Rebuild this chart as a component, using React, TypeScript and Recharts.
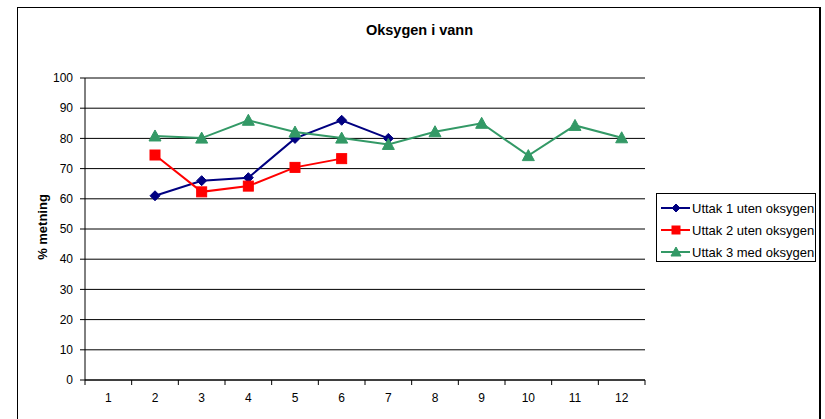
import { LineChart, Line, XAxis, YAxis, CartesianGrid } from "recharts";

const categories = [1, 2, 3, 4, 5, 6, 7, 8, 9, 10, 11, 12];
const uttak1 = [null, 61, 66, 67, 80, 86, 80, null, null, null, null, null];
const uttak2 = [null, 74.5, 62.3, 64.2, 70.4, 73.3, null, null, null, null, null, null];
const uttak3 = [null, 80.8, 80.1, 86, 82.1, 80.1, 78, 82.2, 85, 74.3, 84.3, 80.2];
const yTicks = [0, 10, 20, 30, 40, 50, 60, 70, 80, 90, 100];

const BLUE = "#000080";
const RED = "#FF0000";
const GREEN = "#339966";
const FONT = "'Liberation Sans', Arial, sans-serif";

const data = categories.map((c, i) => ({
  x: c,
  u1: uttak1[i],
  u2: uttak2[i],
  u3: uttak3[i],
}));

// ticks at category centres carry the labels, ticks at the boundaries carry the tick marks
const xTicks = categories.flatMap((c) => [c - 0.5, c]).concat(categories[categories.length - 1] + 0.5);

function XTick(props: any) {
  const { x, y, payload } = props;
  if (Number.isInteger(payload.value)) {
    return (
      <text x={x} y={y + 22} textAnchor="middle" fontSize={12} fontFamily={FONT} fill="#000">
        {payload.value}
      </text>
    );
  }
  return <line x1={x} x2={x} y1={y} y2={y + 5} stroke="#000" />;
}

function Diamond({ cx, cy, color, r = 5 }: any) {
  if (cx == null || cy == null) return null;
  return (
    <polygon
      points={`${cx},${cy - r} ${cx + r},${cy} ${cx},${cy + r} ${cx - r},${cy}`}
      fill={color}
      stroke={color}
    />
  );
}

function Square({ cx, cy, color, r = 5 }: any) {
  if (cx == null || cy == null) return null;
  return <rect x={cx - r} y={cy - r} width={r * 2} height={r * 2} fill={color} stroke={color} />;
}

function Triangle({ cx, cy, color, r = 6 }: any) {
  if (cx == null || cy == null) return null;
  return (
    <polygon
      points={`${cx},${cy - r} ${cx + r},${cy + r - 1} ${cx - r},${cy + r - 1}`}
      fill={color}
      stroke={color}
    />
  );
}

const legendItems = [
  { name: "Uttak 1 uten oksygen", color: BLUE, Shape: Diamond, r: 4 },
  { name: "Uttak 2 uten oksygen", color: RED, Shape: Square, r: 4 },
  { name: "Uttak 3 med oksygen", color: GREEN, Shape: Triangle, r: 5 },
];

export default function App() {
  return (
    <div
      style={{
        position: "absolute",
        left: 0,
        top: 0,
        width: 825,
        height: 419,
        overflow: "hidden",
        background: "#fff",
        fontFamily: FONT,
      }}
    >
      <div
        style={{
          position: "absolute",
          left: 17,
          top: 7,
          width: 804,
          height: 440,
          border: "1px solid #000",
          borderRightWidth: 2,
          boxSizing: "border-box",
        }}
      />
      <div
        style={{
          position: "absolute",
          left: 17,
          width: 805,
          top: 22,
          textAlign: "center",
          fontWeight: "bold",
          fontSize: 14.5,
        }}
      >
        Oksygen i vann
      </div>
      <div
        style={{
          position: "absolute",
          left: 42,
          top: 227,
          transform: "translate(-50%, -50%) rotate(-90deg)",
          whiteSpace: "nowrap",
          fontWeight: "bold",
          fontSize: 13,
        }}
      >
        % metning
      </div>

      <LineChart
        width={825}
        height={419}
        data={data}
        margin={{ top: 78, right: 180, bottom: 0, left: 25 }}
        style={{ position: "absolute", left: 0, top: 0 }}
      >
        <CartesianGrid vertical={false} stroke="#000" strokeWidth={1} />
        <XAxis
          dataKey="x"
          type="number"
          domain={[0.5, 12.5]}
          ticks={xTicks}
          interval={0}
          height={39}
          tickSize={0}
          tickMargin={0}
          tickLine={false}
          axisLine={{ stroke: "#000" }}
          tick={<XTick />}
        />
        <YAxis
          type="number"
          domain={[0, 100]}
          ticks={yTicks}
          interval={0}
          width={60}
          tickSize={5}
          tickMargin={7}
          axisLine={{ stroke: "#000" }}
          tickLine={{ stroke: "#000" }}
          tick={{ fontSize: 12, fill: "#000", fontFamily: FONT }}
        />
        <Line
          dataKey="u1"
          stroke={BLUE}
          strokeWidth={2}
          dot={(p: any) => <Diamond key={`d1-${p.index}`} cx={p.cx} cy={p.cy} color={BLUE} />}
          isAnimationActive={false}
        />
        <Line
          dataKey="u2"
          stroke={RED}
          strokeWidth={2}
          dot={(p: any) => <Square key={`d2-${p.index}`} cx={p.cx} cy={p.cy} color={RED} />}
          isAnimationActive={false}
        />
        <Line
          dataKey="u3"
          stroke={GREEN}
          strokeWidth={2}
          dot={(p: any) => <Triangle key={`d3-${p.index}`} cx={p.cx} cy={p.cy} color={GREEN} />}
          isAnimationActive={false}
        />
      </LineChart>

      <div
        style={{
          position: "absolute",
          left: 656,
          top: 193,
          width: 160,
          height: 69,
          border: "1px solid #000",
          boxSizing: "border-box",
          background: "#fff",
          paddingTop: 3,
        }}
      >
        {legendItems.map(({ name, color, Shape, r }) => (
          <div key={name} style={{ display: "flex", alignItems: "center", height: 22, fontSize: 13 }}>
            <svg width={35} height={14} style={{ flex: "none" }}>
              <line x1={4} x2={33} y1={7} y2={7} stroke={color} strokeWidth={2} />
              <Shape cx={19} cy={7} color={color} r={r} />
            </svg>
            <span style={{ whiteSpace: "nowrap" }}>{name}</span>
          </div>
        ))}
      </div>
    </div>
  );
}
